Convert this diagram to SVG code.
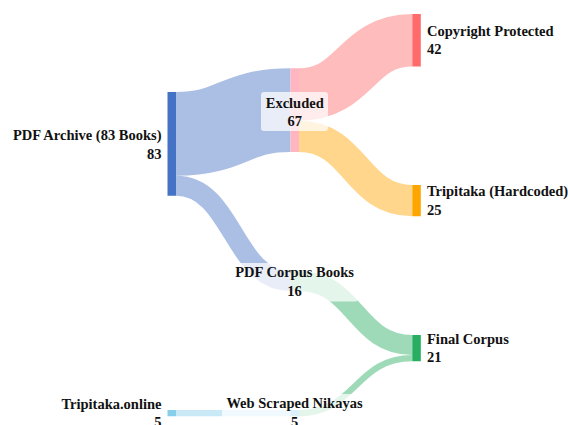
<svg xmlns="http://www.w3.org/2000/svg" width="568" height="425" viewBox="0 0 568 425">
<style>
.lk{fill:none;stroke-opacity:0.45}
.lb{font-family:"Liberation Serif","Times New Roman",serif;font-size:14.5px;font-weight:bold;fill:#111}
.bx{fill:#fff;fill-opacity:0.72}
</style>
<rect width="568" height="425" fill="#fff"/>
<g id="links">
<path class="lk" stroke="#4472C4" stroke-width="83.75" d="M176,133.9 C233,133.9 233,110.1 290.5,110.1"/>
<path class="lk" stroke="#4472C4" stroke-width="20" d="M176,185.75 C233,185.75 233,281 290.5,281"/>
<path class="lk" stroke="#FF6B6B" stroke-width="52.5" d="M299,94.5 C355.5,94.5 355.5,40.25 412.3,40.25"/>
<path class="lk" stroke="#FFA500" stroke-width="31.25" d="M299,136.4 C355.5,136.4 355.5,200.6 412.3,200.6"/>
<path class="lk" stroke="#27AE60" stroke-width="20" d="M299,281 C355.5,281 355.5,345 412.3,345"/>
<path class="lk" stroke="#27AE60" stroke-width="6.25" d="M299,413.1 C355.5,413.1 355.5,358.1 412.3,358.1"/>
<path class="lk" stroke="#87CEEB" stroke-width="6.25" d="M176,413.1 L290.5,413.1"/>
</g>
<g id="node-pdf-archive">
<rect x="167.5" y="92" width="8.5" height="103.75" fill="#4472C4"/>
<text class="lb" x="161.5" y="140" text-anchor="end">PDF Archive (83 Books)</text>
<text class="lb" x="161.5" y="158.5" text-anchor="end">83</text>
</g>
<g id="node-excluded">
<rect x="290.5" y="68.25" width="8.5" height="83.75" fill="#FFB6C1"/>
<rect class="bx" x="261" y="92" width="67" height="39" rx="3"/>
<text class="lb" x="294.75" y="107.5" text-anchor="middle">Excluded</text>
<text class="lb" x="294.75" y="125.5" text-anchor="middle">67</text>
</g>
<g id="node-copyright">
<rect x="412.3" y="14" width="8.5" height="52.5" fill="#FF6B6B"/>
<text class="lb" x="427" y="35.5">Copyright Protected</text>
<text class="lb" x="427" y="54">42</text>
</g>
<g id="node-tripitaka-hardcoded">
<rect x="412.3" y="185" width="8.5" height="31.25" fill="#FFA500"/>
<text class="lb" x="427" y="196.3">Tripitaka (Hardcoded)</text>
<text class="lb" x="427" y="214.8">25</text>
</g>
<g id="node-pdf-corpus">
<rect x="290.5" y="271" width="8.5" height="20" fill="#9FD9B9"/>
<rect class="bx" x="230" y="263" width="128" height="38.5" rx="3"/>
<text class="lb" x="294.5" y="277.3" text-anchor="middle">PDF Corpus Books</text>
<text class="lb" x="294.5" y="295.5" text-anchor="middle">16</text>
</g>
<g id="node-final-corpus">
<rect x="412.3" y="335" width="8.5" height="26.25" fill="#27AE60"/>
<text class="lb" x="427" y="343.6">Final Corpus</text>
<text class="lb" x="427" y="362">21</text>
</g>
<g id="node-tripitaka-online">
<rect x="167.5" y="410" width="8.5" height="6.25" fill="#87CEEB"/>
<text class="lb" x="161.5" y="408.6" text-anchor="end">Tripitaka.online</text>
<text class="lb" x="161.5" y="427" text-anchor="end">5</text>
</g>
<g id="node-web-scraped">
<rect x="290.5" y="410" width="8.5" height="6.25" fill="#87CEEB"/>
<rect class="bx" x="222" y="394" width="145" height="40" rx="3"/>
<text class="lb" x="294.5" y="408" text-anchor="middle">Web Scraped Nikayas</text>
<text class="lb" x="294.5" y="426.5" text-anchor="middle">5</text>
</g>
</svg>
